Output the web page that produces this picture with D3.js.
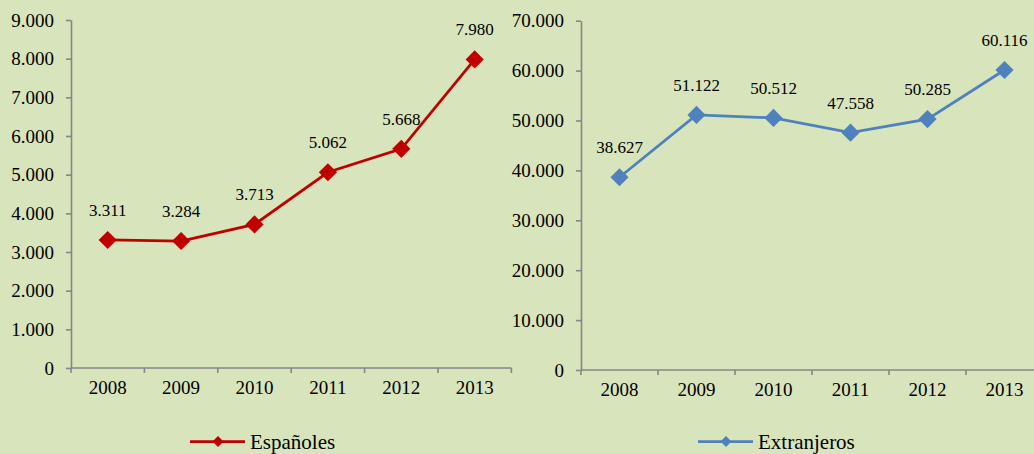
<!DOCTYPE html>
<html>
<head>
<meta charset="utf-8">
<script src="https://cdn.jsdelivr.net/npm/d3@7"></script>
<style>
  html, body { margin: 0; padding: 0; background: #d8e4bc; }
  svg, svg text { font-family: "Liberation Serif", "DejaVu Serif", serif; }
  .axis path, .axis line { stroke: #868686; stroke-width: 1.6; }
  .axis text { font-size: 19px; fill: #000; }
</style>
</head>
<body>
<div id="chart"></div>
<script>
const years = ['2008', '2009', '2010', '2011', '2012', '2013'];
const espanoles = [3311, 3284, 3713, 5062, 5668, 7980];
const extranjeros = [38627, 51122, 50512, 47558, 50285, 60116];
const espTicks = [0, 1000, 2000, 3000, 4000, 5000, 6000, 7000, 8000, 9000];
const extTicks = [0, 10000, 20000, 30000, 40000, 50000, 60000, 70000];

const W = 1034, H = 454;
const es = d3.formatLocale({decimal: ',', thousands: '.', grouping: [3], currency: ['', '€']});
const fmt = es.format(',');

const svg = d3.select('#chart').append('svg')
  .attr('width', W).attr('height', H);

svg.append('rect').attr('width', W).attr('height', H).attr('fill', '#d8e4bc');

const panels = [
  {name: 'Españoles', values: espanoles, ticks: espTicks, color: '#c00000',
   xRange: [71, 511.4], yRange: [368, 20], legendX: 190},
  {name: 'Extranjeros', values: extranjeros, ticks: extTicks, color: '#4f81bd',
   xRange: [581, 1043], yRange: [370, 20.7], legendX: 698}
];

const diamond = d3.symbol().type(d3.symbolSquare);

panels.forEach((p) => {
  const x = d3.scaleBand().domain(years).range(p.xRange);
  const y = d3.scaleLinear().domain([0, d3.max(p.ticks)]).range(p.yRange);
  const g = svg.append('g');

  // y axis
  g.append('g').attr('class', 'y axis')
    .attr('transform', 'translate(' + p.xRange[0] + ',0)')
    .call(d3.axisLeft(y).tickValues(p.ticks).tickFormat(fmt)
      .tickSizeInner(5).tickSizeOuter(0).tickPadding(12))
    .attr('font-family', null);

  // x axis: labels centered in bands, ticks on band edges
  const xg = g.append('g').attr('class', 'x axis')
    .attr('transform', 'translate(0,' + p.yRange[0] + ')')
    .call(d3.axisBottom(x).tickSize(0).tickPadding(13))
    .attr('font-family', null);
  xg.select('.domain').remove();
  xg.append('line')
    .attr('x1', p.xRange[0]).attr('x2', p.xRange[1]);
  xg.selectAll('line.edge')
    .data(years.concat(['end']))
    .join('line')
    .attr('class', 'edge')
    .attr('x1', (d) => d === 'end' ? p.xRange[1] : x(d))
    .attr('x2', (d) => d === 'end' ? p.xRange[1] : x(d))
    .attr('y1', 0).attr('y2', 5);

  const cx = (d, i) => x(years[i]) + x.bandwidth() / 2;

  // series line
  g.append('path')
    .datum(p.values)
    .attr('fill', 'none')
    .attr('stroke', p.color)
    .attr('stroke-width', 2.75)
    .attr('d', d3.line().x(cx).y((d) => y(d)));

  // markers
  g.selectAll('.marker')
    .data(p.values)
    .join('path')
    .attr('class', 'marker')
    .attr('d', diamond.size(165))
    .attr('fill', p.color)
    .attr('transform', (d, i) => 'translate(' + cx(d, i) + ',' + y(d) + ') rotate(45)');

  // value labels
  g.selectAll('.vlabel')
    .data(p.values)
    .join('text')
    .attr('class', 'vlabel')
    .attr('x', cx)
    .attr('y', (d) => y(d) - 24)
    .attr('text-anchor', 'middle')
    .attr('font-size', 17)
    .attr('fill', '#000')
    .text((d) => fmt(d));

  // legend
  const lg = svg.append('g').attr('transform', 'translate(' + p.legendX + ',441.5)');
  lg.append('line').attr('x1', 0).attr('x2', 55)
    .attr('stroke', p.color).attr('stroke-width', 2.75);
  lg.append('path').attr('d', diamond.size(60)).attr('fill', p.color)
    .attr('transform', 'translate(28,0) rotate(45)');
  lg.append('text').attr('x', 60).attr('y', 7)
    .attr('font-size', 21).attr('fill', '#000').text(p.name);
});
</script>
</body>
</html>
